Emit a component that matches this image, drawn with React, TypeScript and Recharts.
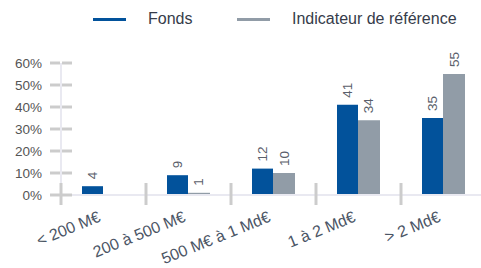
import { BarChart, Bar, XAxis, YAxis, LabelList } from 'recharts'

const categories = ['< 200 M€', '200 à 500 M€', '500 M€ à 1 Md€', '1 à 2 Md€', '> 2 Md€']
const fonds = [4, 9, 12, 41, 35]
const indicateur = [0, 1, 10, 34, 55]
const yTicks = [0, 10, 20, 30, 40, 50, 60]

const BLUE = '#02529b'
const GREY = '#919ca7'
const FONT = '"Liberation Sans", Arial, Helvetica, sans-serif'

const W = 481
const H = 268
const Y_W = 61
const MARGIN = { top: 63, right: -5, left: 0, bottom: 0 }
const band = (W - Y_W - MARGIN.left - MARGIN.right) / categories.length

const data = categories.map((name, i) => ({
  name,
  fonds: fonds[i],
  indicateur: indicateur[i],
}))

const YTick = (props: any) => {
  const { x, y, payload } = props
  return (
    <g>
      <line x1={x - 11} x2={x - 1} y1={y} y2={y} stroke="#cccccc" strokeWidth={3} />
      <line x1={x + 1} x2={x + 11} y1={y} y2={y} stroke="#cccccc" strokeWidth={3} />
      <text x={x - 19} y={y} dy={5} textAnchor="end" fill="#555555" fontSize={13.5} fontFamily={FONT}>
        {payload.value}%
      </text>
    </g>
  )
}

const XTick = (props: any) => {
  const { x, y, payload } = props
  const lx = x - 2
  const ly = y + 26
  return (
    <g>
      <line x1={x - band / 2} x2={x - band / 2} y1={y - 12} y2={y + 10} stroke="#cccccc" strokeWidth={3} />
      <text
        x={lx}
        y={ly}
        textAnchor="end"
        fill="#4b5565"
        fontSize={16}
        fontFamily={FONT}
        transform={`rotate(-22 ${lx} ${ly})`}
      >
        {payload.value}
      </text>
    </g>
  )
}

const BarLabel = (props: any) => {
  const { x, y, width, value } = props
  if (!value) return null
  const cx = x + width / 2
  const cy = y - 7
  return (
    <text
      x={cx}
      y={cy}
      textAnchor="start"
      dominantBaseline="central"
      fill="#5a606b"
      fontSize={13.5}
      fontFamily={FONT}
      transform={`rotate(-90 ${cx} ${cy})`}
    >
      {value}
    </text>
  )
}

function Legend() {
  const item = (color: string, label: string, left: number) => (
    <div style={{ position: 'absolute', left, top: 10, display: 'flex', alignItems: 'center' }}>
      <span style={{ display: 'inline-block', width: 33, height: 3, background: color, marginRight: 22 }} />
      <span style={{ fontSize: 16, color: '#363c4a', fontFamily: FONT }}>{label}</span>
    </div>
  )
  return (
    <>
      {item(BLUE, 'Fonds', 93)}
      {item(GREY, 'Indicateur de référence', 237)}
    </>
  )
}

export default function App() {
  return (
    <div style={{ position: 'absolute', left: 0, top: 0, width: W, height: H, background: '#fff', overflow: 'hidden' }}>
      <Legend />
      <BarChart width={W} height={H} data={data} margin={MARGIN} barGap={0} barCategoryGap="25%">
        <XAxis
          dataKey="name"
          interval={0}
          height={73}
          tickSize={0}
          tickMargin={0}
          axisLine={{ stroke: '#e9e9f1', strokeWidth: 2 }}
          tickLine={false}
          tick={<XTick />}
        />
        <YAxis
          domain={[0, 60]}
          ticks={yTicks}
          interval={0}
          width={Y_W}
          tickSize={0}
          tickMargin={0}
          axisLine={{ stroke: '#e9e9f1', strokeWidth: 2 }}
          tickLine={false}
          tick={<YTick />}
        />
        <Bar dataKey="fonds" fill={BLUE} barSize={21} isAnimationActive={false}>
          <LabelList dataKey="fonds" content={<BarLabel />} />
        </Bar>
        <Bar dataKey="indicateur" fill={GREY} barSize={22} isAnimationActive={false}>
          <LabelList dataKey="indicateur" content={<BarLabel />} />
        </Bar>
      </BarChart>
    </div>
  )
}
